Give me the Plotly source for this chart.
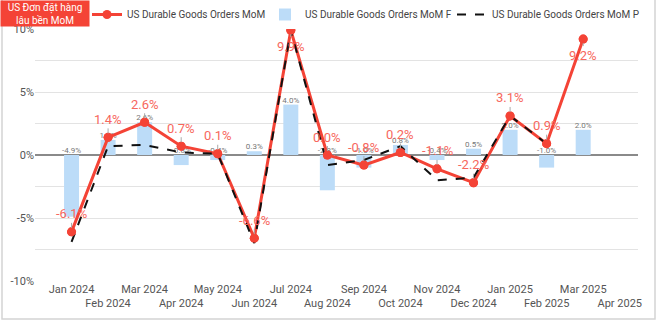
import plotly.graph_objects as go

# Months on the category axis
months = ["Jan 2024", "Feb 2024", "Mar 2024", "Apr 2024", "May 2024", "Jun 2024",
          "Jul 2024", "Aug 2024", "Sep 2024", "Oct 2024", "Nov 2024", "Dec 2024",
          "Jan 2025", "Feb 2025", "Mar 2025", "Apr 2025"]

# US Durable Goods Orders MoM (%)
mom = [-6.1, 1.4, 2.6, 0.7, 0.1, -6.6, 9.9, 0.0, -0.8, 0.2, -1.1, -2.2, 3.1, 0.9, 9.2]
# US Durable Goods Orders MoM F (%)
mom_f = [-4.9, 1.2, 2.6, -0.8, -0.4, 0.3, 4.0, -2.8, -1.0, 0.8, -0.4, 0.5, 2.0, -1.0, 2.0]
# US Durable Goods Orders MoM P (%)
mom_p = [-6.9, 0.7, 0.8, 0.2, 0.1, -7.0, 9.9, -0.8, -0.4, 0.7, -2.0, -1.8, 3.1, 0.9]

y_ticks = [-10, -5, 0, 5, 10]

RED = "#f44336"
RED_TXT = "#f7675d"
BLUE = "#bcdcf8"
FONT = "Roboto"

# pixel layout of the plot area
W, H = 659, 322
L, R, T, B = 35, 21, 29, 41
PW, PH = W - L - R, H - T - B


def px_x(p):
    return (p - L) / PW


def px_y(p):
    return (H - B - p) / PH


fig = go.Figure()

fig.add_trace(go.Bar(
    x=months[:len(mom_f)], y=mom_f, name="US Durable Goods Orders MoM F",
    marker=dict(color=BLUE, line=dict(width=0)), width=0.41,
    legend="legend2", hoverinfo="x+y",
))

# small value labels for the bars, sitting at the upper edge of each bar
fig.add_trace(go.Scatter(
    x=months[:len(mom_f)], y=[max(v, 0) for v in mom_f], mode="text",
    text=[f"{v:.1f}%" for v in mom_f], textposition="top center",
    textfont=dict(size=8, color="#777", family=FONT),
    showlegend=False, hoverinfo="skip",
))

fig.add_trace(go.Scatter(
    x=months[:len(mom)], y=mom, name="US Durable Goods Orders MoM",
    mode="lines+markers", line=dict(color=RED, width=3),
    marker=dict(color=RED, size=9), legend="legend",
))

fig.add_trace(go.Scatter(
    x=months[:len(mom_p)], y=mom_p, name="US Durable Goods Orders MoM P",
    mode="lines", line=dict(color="#111", width=2, dash="dash"), legend="legend3",
))

# markers redrawn on top of the dashed line
fig.add_trace(go.Scatter(
    x=months[:len(mom)], y=mom, mode="markers",
    marker=dict(color=RED, size=9), showlegend=False, hoverinfo="skip",
))

annotations = []
for m, v in zip(months, mom):
    annotations.append(dict(
        x=m, y=v, xref="x", yref="y", text=f"{v:.1f}%",
        showarrow=True, arrowhead=0, arrowwidth=1, arrowcolor="#aaa",
        ax=0, ay=(16 if v > 9 else -18), standoff=4,
        font=dict(size=13, color=RED_TXT, family=FONT),
    ))

# title badge in the top-left corner
annotations.append(dict(
    x=px_x(0), y=px_y(0), xref="paper", yref="paper",
    xanchor="left", yanchor="top", showarrow=False,
    text="US Đơn đặt hàng<br>lâu bền MoM", align="center",
    width=84, height=21, bgcolor=RED, borderpad=2,
    font=dict(size=10, color="white", family=FONT),
))


def legend_at(px_left):
    return dict(
        orientation="h", x=px_x(px_left), y=px_y(0), xanchor="left", yanchor="top",
        font=dict(size=10, color="#444", family=FONT),
        bgcolor="rgba(0,0,0,0)", itemwidth=30,
    )


fig.update_layout(
    width=W, height=H,
    margin=dict(l=L, r=R, t=T, b=B, autoexpand=False),
    paper_bgcolor="white", plot_bgcolor="white",
    font=dict(family=FONT, color="#555", size=11),
    barmode="overlay",
    showlegend=True,
    legend=legend_at(87),
    legend2=legend_at(265),
    legend3=legend_at(452),
    annotations=annotations,
    shapes=[dict(
        type="rect", xref="paper", yref="paper",
        x0=px_x(2), x1=px_x(655), y0=px_y(319), y1=px_y(-5),
        line=dict(color="#d4d4d4", width=1.5), layer="below",
    )],
)

fig.update_xaxes(
    type="category", categoryorder="array", categoryarray=months,
    range=[-1, 15.5], showgrid=False, zeroline=False, showline=False,
    ticks="", tickvals=months, tickangle=0,
    ticktext=[m if i % 2 == 0 else "<br>" + m for i, m in enumerate(months)],
    tickfont=dict(size=11, color="#555", family=FONT),
)

fig.update_yaxes(
    range=[-10, 10], tickvals=y_ticks, ticktext=[f"{t}%" for t in y_ticks],
    showgrid=True, gridcolor="#e3e3e3", gridwidth=1,
    minor=dict(dtick=2.5, showgrid=True, gridcolor="#e3e3e3", gridwidth=1),
    zeroline=True, zerolinecolor="#8a8a8a", zerolinewidth=2,
    showline=False, ticks="", tickfont=dict(size=11, color="#555", family=FONT),
)

fig.write_html("out.html")
